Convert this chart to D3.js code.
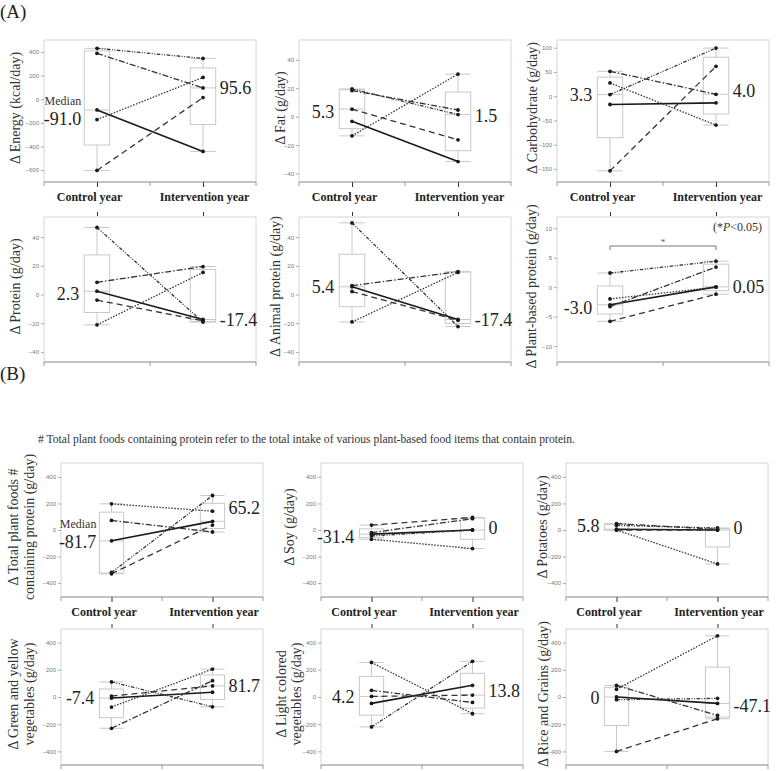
<!DOCTYPE html>
<html>
<head>
<meta charset="utf-8">
<script src="https://cdn.jsdelivr.net/npm/d3@7"></script>
<style>
  body { margin: 0; background: #fff; }
</style>
</head>
<body>
<svg id="chart" width="776" height="771"></svg>
<script>
// categories and subject line styles (one line per participant)
var categories = ["Control year", "Intervention year"];
var subjectStyles = ["solid", "dashed", "dotted", "dashdot", "dashdotdot"];

// values per subject, same order as subjectStyles
// (A) nutrients
var energyControl = [-91.0, -604, -173, 389, 431];
var energyIntervention = [-443, 14, 185, 95.6, 346];
var fatControl = [-3.3, 5.3, -13.5, 18.4, 19.5];
var fatIntervention = [-31.6, -16.3, 30, 4.7, 1.5];
var carbControl = [-17.1, -154, 27.4, 51.4, 3.3];
var carbIntervention = [-13.7, 61.6, -59.6, 4.0, 99.3];
var proteinControl = [2.3, -3.9, -21.1, 8.5, 46.7];
var proteinIntervention = [-17.4, -18.3, 15.4, 19.5, -19.2];
var animalControl = [5.4, 2.1, -19.1, 6.2, 49.9];
var animalIntervention = [-17.4, -18.0, 15.4, 15.9, -22.3];
var plantControl = [-3.0, -5.8, -2.0, -3.3, 2.4];
var plantIntervention = [0.05, -1.2, 0.0, 3.4, 4.4];
// (B) food groups
var totalPlantControl = [-81.7, -330, 197, 72, -320];
var totalPlantIntervention = [65.2, 37, 142, -15, 260];
var soyControl = [-31.4, 37, -70, -20, -45];
var soyIntervention = [0, 95, -140, 85, 0];
var potatoControl = [5.8, 0, 0, 48, 35];
var potatoIntervention = [0, 0, -256, 5, 15];
var greenControl = [-7.4, 7, -74, -230, 111];
var greenIntervention = [35, 81.7, 205, 120, -72];
var lightControl = [-47, 4.2, 254, 49, -220];
var lightIntervention = [86, 13.8, -123, -40, 262];
var riceControl = [0, -400, 57, 85, -20];
var riceIntervention = [-47.1, -160, 450, -135, -10];

// titles, median labels and tick values
var yTitles = [
  ["Δ Energy (kcal/day)"], ["Δ Fat (g/day)"], ["Δ Carbohydrate (g/day)"],
  ["Δ Protein (g/day)"], ["Δ Animal protein (g/day)"], ["Δ Plant-based  protein (g/day)"],
  ["Δ Total plant foods #", "containing protein (g/day)"], ["Δ Soy (g/day)"], ["Δ Potatoes (g/day)"],
  ["Δ Green and yellow", "vegetables (g/day)"], ["Δ Light colored", "vegetables (g/day)"], ["Δ Rice and Grains (g/day)"]
];
var medianLabels = [
  ["-91.0", "95.6"], ["5.3", "1.5"], ["3.3", "4.0"],
  ["2.3", "-17.4"], ["5.4", "-17.4"], ["-3.0", "0.05"],
  ["-81.7", "65.2"], ["-31.4", "0"], ["5.8", "0"],
  ["-7.4", "81.7"], ["4.2", "13.8"], ["0", "-47.1"]
];
var ticksEnergy = [-600, -400, -200, 0, 200, 400];
var ticks20 = [-40, -20, 0, 20, 40];
var ticksCarb = [-150, -100, -50, 0, 50, 100];
var ticksPlant = [-10, -5, 0, 5, 10];
var ticksFood = [-400, -200, 0, 200, 400];

var dashes = { solid: null, dashed: "6,4", dotted: "1.5,1.5", dashdot: "6,2,1.5,2", dashdotdot: "3.5,1.5,1,1.5,1,1.5" };
var SERIF = "'Liberation Serif', 'DejaVu Serif', 'Times New Roman', serif";
var SANS = "'Liberation Sans', Arial, sans-serif";

var svg = d3.select("#chart").style("font-family", SERIF);

// layout of the 12 panels
var rowA1 = { top: 40, bottom: 182 }, rowA2 = { top: 217, bottom: 362 };
var rowB1 = { top: 463, bottom: 597 }, rowB2 = { top: 629, bottom: 765 };
var colsA = [44, 299, 557], wA = 212;
var colsB = [61, 321, 566], wB = 202;

var panels = [
  { row: rowA1, left: colsA[0], width: wA, before: energyControl, after: energyIntervention, domain: [-702, 502], ticks: ticksEnergy, catBelow: true, titleX: [15], medianWord: true, dy: [9, 0], padC: 3 },
  { row: rowA1, left: colsA[1], width: wA, before: fatControl, after: fatIntervention, domain: [-46, 54], ticks: ticks20, catBelow: true, titleX: [280], dy: [3, 1] },
  { row: rowA1, left: colsA[2], width: wA, before: carbControl, after: carbIntervention, domain: [-177, 116], ticks: ticksCarb, catBelow: true, titleX: [532], dy: [0, -4] },
  { row: rowA2, left: colsA[0], width: wA, before: proteinControl, after: proteinIntervention, domain: [-47, 54], ticks: ticks20, ticksAbove: true, titleX: [15], dy: [2, 0] },
  { row: rowA2, left: colsA[1], width: wA, before: animalControl, after: animalIntervention, domain: [-47, 54], ticks: ticks20, ticksAbove: true, titleX: [275], dy: [0, 0] },
  { row: rowA2, left: colsA[2], width: wA, before: plantControl, after: plantIntervention, domain: [-12.7, 11.9], ticks: ticksPlant, ticksAbove: true, titleX: [531], dy: [3, 0], bracketY: 246 },
  { row: rowB1, left: colsB[0], width: wB, before: totalPlantControl, after: totalPlantIntervention, domain: [-505, 505], ticks: ticksFood, catBelow: true, titleX: [13, 29], medianWord: true, dy: [1, -14], padC: 3 },
  { row: rowB1, left: colsB[1], width: wB, before: soyControl, after: soyIntervention, domain: [-505, 505], ticks: ticksFood, catBelow: true, titleX: [289], dy: [3, -2] },
  { row: rowB1, left: colsB[2], width: wB, before: potatoControl, after: potatoIntervention, domain: [-505, 505], ticks: ticksFood, catBelow: true, titleX: [542], dy: [-4, -2] },
  { row: rowB2, left: colsB[0], width: wB, before: greenControl, after: greenIntervention, domain: [-500, 500], ticks: ticksFood, ticksAbove: true, titleX: [13, 29], dy: [0, 0] },
  { row: rowB2, left: colsB[1], width: wB, before: lightControl, after: lightIntervention, domain: [-500, 500], ticks: ticksFood, ticksAbove: true, titleX: [281, 296], dy: [0, -4] },
  { row: rowB2, left: colsB[2], width: wB, before: riceControl, after: riceIntervention, domain: [-500, 500], ticks: ticksFood, ticksAbove: true, titleX: [543], dy: [1, 2] }
];

// quantile, (n+1)p rule
function quart(values, p) {
  var s = values.slice().sort(d3.ascending);
  var h = (s.length + 1) * p - 1;
  var lo = Math.max(0, Math.floor(h)), hi = Math.min(s.length - 1, Math.ceil(h));
  if (h < 0) return s[0];
  return s[lo] + (h - lo) * (s[hi] - s[lo]);
}

panels.forEach(function(p, i) { drawPanel(p, i); });

function drawPanel(p, idx) {
  var g = svg.append("g");
  var top = p.row.top, bottom = p.row.bottom, right = p.left + p.width;
  var x = d3.scalePoint().domain(categories).range([p.left, right]).padding(0.5);
  var y = d3.scaleLinear().domain(p.domain).range([bottom, top]);
  var bw = p.width * 0.12;

  // frame
  g.append("rect")
    .attr("x", p.left).attr("y", top)
    .attr("width", p.width).attr("height", bottom - top)
    .attr("fill", "none").attr("stroke", "#d6d6d6");

  // y axis
  var ya = g.append("g")
    .attr("transform", "translate(" + p.left + ",0)")
    .call(d3.axisLeft(y).tickValues(p.ticks).tickSize(3).tickPadding(2));
  ya.select(".domain").remove();
  ya.selectAll("line").attr("stroke", "#aaa");
  ya.selectAll("text")
    .style("font-family", SANS)
    .attr("font-size", 6).attr("fill", "#777");

  // bottom axis line with dividers
  g.append("line")
    .attr("x1", p.left).attr("x2", right).attr("y1", bottom).attr("y2", bottom)
    .attr("stroke", "#9a9a9a");
  g.selectAll(".divider").data([p.left, (p.left + right) / 2, right]).enter()
    .append("line")
    .attr("x1", function(d) { return d; }).attr("x2", function(d) { return d; })
    .attr("y1", bottom).attr("y2", bottom + 4)
    .attr("stroke", "#9a9a9a");

  if (p.catBelow) {
    var xa = g.append("g")
      .attr("transform", "translate(0," + bottom + ")")
      .call(d3.axisBottom(x).tickSize(5).tickPadding(2));
    xa.select(".domain").remove();
    xa.selectAll("line").attr("stroke", "#333");
    xa.selectAll("text")
      .style("font-family", SERIF)
      .attr("font-size", 12).attr("font-weight", "bold").attr("fill", "#222")
      .attr("y", 15).attr("dy", "0.35em")
      .attr("dx", function(d, k) { return k === 0 ? -8 : 1; });
  }
  if (p.ticksAbove) {
    var xt = g.append("g")
      .attr("transform", "translate(0," + (top - 1) + ")")
      .call(d3.axisTop(x).tickSize(4).tickFormat(""));
    xt.select(".domain").remove();
    xt.selectAll("line").attr("stroke", "#333");
  }

  // box plots
  var groups = [p.before, p.after];
  var stats = groups.map(function(v) {
    var q1 = quart(v, 0.25), q3 = quart(v, 0.75), iqr = q3 - q1;
    var inside = v.filter(function(d) { return d >= q1 - 1.5 * iqr && d <= q3 + 1.5 * iqr; });
    return { q1: q1, med: quart(v, 0.5), q3: q3, lo: d3.min(inside), hi: d3.max(inside) };
  });
  stats.forEach(function(s, k) {
    var cx = x(categories[k]);
    var bg = g.append("g").attr("stroke", "#c8c8c8").attr("fill", "none");
    bg.append("line").attr("x1", cx).attr("x2", cx).attr("y1", y(s.hi)).attr("y2", y(s.q3));
    bg.append("line").attr("x1", cx).attr("x2", cx).attr("y1", y(s.q1)).attr("y2", y(s.lo));
    bg.append("line").attr("x1", cx - bw / 2).attr("x2", cx + bw / 2).attr("y1", y(s.hi)).attr("y2", y(s.hi));
    bg.append("line").attr("x1", cx - bw / 2).attr("x2", cx + bw / 2).attr("y1", y(s.lo)).attr("y2", y(s.lo));
    bg.append("rect").attr("x", cx - bw / 2).attr("y", y(s.q3))
      .attr("width", bw).attr("height", y(s.q1) - y(s.q3));
    bg.append("line").attr("x1", cx - bw / 2).attr("x2", cx + bw / 2).attr("y1", y(s.med)).attr("y2", y(s.med));
  });

  // subject lines
  var subjects = subjectStyles.map(function(st, k) {
    return { style: st, a: p.before[k], b: p.after[k] };
  });
  g.selectAll(".subject").data(subjects).enter()
    .append("line")
    .attr("x1", x(categories[0])).attr("x2", x(categories[1]))
    .attr("y1", function(d) { return y(d.a); })
    .attr("y2", function(d) { return y(d.b); })
    .attr("stroke", function(d) { return d.style === "solid" ? "#1a1a1a" : "#333"; })
    .attr("stroke-width", function(d) { return d.style === "solid" ? 1.6 : 1.3; })
    .attr("stroke-dasharray", function(d) { return dashes[d.style]; });

  var pts = [];
  subjects.forEach(function(d) {
    pts.push({ c: categories[0], v: d.a });
    pts.push({ c: categories[1], v: d.b });
  });
  g.selectAll(".pt").data(pts).enter()
    .append("circle")
    .attr("cx", function(d) { return x(d.c); })
    .attr("cy", function(d) { return y(d.v); })
    .attr("r", 1.9).attr("fill", "#1a1a1a");

  // median labels
  var ml = medianLabels[idx];
  var padC = p.padC || 5;
  g.append("text")
    .attr("x", x(categories[0]) - bw / 2 - padC)
    .attr("y", y(stats[0].med) + p.dy[0])
    .attr("dy", "0.35em").attr("text-anchor", "end")
    .attr("font-size", 18).attr("fill", "#222")
    .text(ml[0]);
  g.append("text")
    .attr("x", x(categories[1]) + bw / 2 + 4)
    .attr("y", y(stats[1].med) + p.dy[1])
    .attr("dy", "0.35em").attr("text-anchor", "start")
    .attr("font-size", 18).attr("fill", "#222")
    .text(ml[1]);
  if (p.medianWord) {
    g.append("text")
      .attr("x", x(categories[0]) - bw / 2 - padC)
      .attr("y", y(stats[0].med) + p.dy[0] - 18)
      .attr("dy", "0.35em").attr("text-anchor", "end")
      .attr("font-size", 12).attr("fill", "#333")
      .text("Median");
  }

  // y title
  var cy = (top + bottom) / 2 - 3;
  yTitles[idx].forEach(function(t, k) {
    g.append("text")
      .attr("transform", "translate(" + p.titleX[k] + "," + cy + ") rotate(-90)")
      .attr("text-anchor", "middle").attr("dy", "0.35em")
      .attr("font-size", 14).attr("fill", "#333")
      .text(t);
  });

  // significance bracket
  if (p.bracketY) {
    var x0 = x(categories[0]), x1 = x(categories[1]), by = p.bracketY;
    g.append("path")
      .attr("d", "M" + x0 + "," + (by + 4) + "V" + by + "H" + x1 + "V" + (by + 4))
      .attr("fill", "none").attr("stroke", "#777");
    g.append("text")
      .attr("x", (x0 + x1) / 2).attr("y", by - 1)
      .attr("text-anchor", "middle").attr("font-size", 9).attr("fill", "#555")
      .text("*");
    var pt = g.append("text")
      .attr("x", right - 7).attr("y", top + 10)
      .attr("dy", "0.35em").attr("text-anchor", "end")
      .attr("font-size", 12).attr("fill", "#333");
    pt.append("tspan").text("(*");
    pt.append("tspan").attr("font-style", "italic").text("P");
    pt.append("tspan").text("<0.05)");
  }
}

// part labels and note
svg.append("text").attr("x", 0).attr("y", 11).attr("dy", "0.35em")
  .attr("font-size", 19).attr("fill", "#222").text("(A)");
svg.append("text").attr("x", 0).attr("y", 373).attr("dy", "0.35em")
  .attr("font-size", 19).attr("fill", "#222").text("(B)");
svg.append("text").attr("x", 38).attr("y", 439).attr("dy", "0.35em")
  .attr("font-size", 11.6).attr("fill", "#333")
  .text("# Total plant foods containing protein refer to the total intake of various plant-based food items that contain protein.");
</script>
</body>
</html>
